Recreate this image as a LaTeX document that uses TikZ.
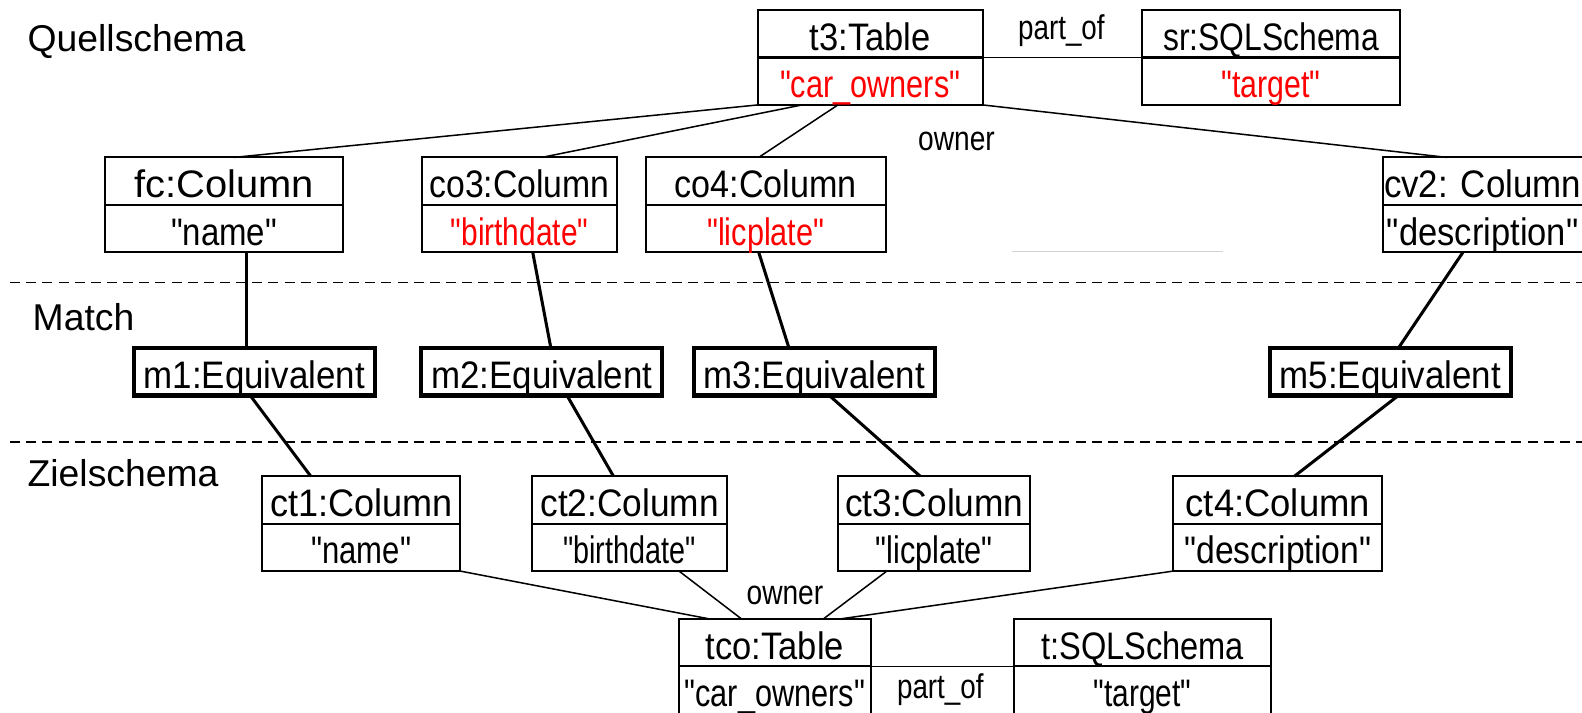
\documentclass[tikz,border=0pt]{standalone}
\usepackage{fontspec}
\setmainfont{Liberation Sans}[Ligatures=TeXOff]
\usepackage{graphicx}
\usepackage{tikz}
\usetikzlibrary{positioning}
\definecolor{ValueRed}{RGB}{255,0,0}
\newcommand\sx[2]{\scalebox{#1}[1]{#2}}

\begin{document}
\begin{tikzpicture}[x=0.5pt,y=-0.5pt,
  obj/.style={draw,line width=1pt,minimum width=#1,minimum height=23.5pt,inner sep=0pt,outer sep=0pt,text height=16.5pt,text depth=0pt,font=\fontsize{19}{22}\selectfont},
  eqv/.style={obj=119.5pt,line width=2pt},
  lbl/.style={inner sep=0pt,font=\fontsize{18.5}{22}\selectfont},
  rel/.style={inner sep=0pt,anchor=base,font=\fontsize{17}{20}\selectfont},
  lnk/.style={line width=0.75pt},
  mlnk/.style={line width=1.5pt},
  sep/.style={line width=0.8pt,dash pattern=on 5pt off 3pt}]
\useasboundingbox (0,0) rectangle (1568,706);

% layers
\node[lbl,anchor=west] (quelle) at (27,41.5) {Quellschema};
\node[lbl,anchor=west] (match) at (32,314) {Match};
\node[lbl,anchor=west] (ziel) at (27,469) {Zielschema};
\draw[sep] (10,280) -- (1568,280);
\draw[sep] (10,438) -- (1568,438);

% source schema
\node[obj=111.5pt] (t3) at (862.5,33.5) {\sx{0.9}{t3:Table}};
\node[obj=111.5pt,below=0pt of t3,text=ValueRed] (t3-v) {\sx{0.8}{"car\_owners"}};
\node[obj=128pt] (sr) at (1260,33.5) {\sx{0.83}{sr:SQLSchema}};
\node[obj=128pt,below=0pt of sr,text=ValueRed] (sr-v) {\sx{0.79}{"target"}};
\draw[lnk] (t3.south east) -- (sr.south west);
\node[rel] (po1) at (1052,39) {\sx{0.81}{part\_of}};
\node[rel] (own1) at (948,149) {\sx{0.82}{owner}};

\foreach \nm/\px/\bw/\col/\ttl/\tsx/\val/\vsx in {%
  fc/222/118pt/black/fc:Column/1.04/"name"/0.86,
  co3/515/97pt/ValueRed/co3:Column/0.88/"birthdate"/0.78,
  co4/759/119pt/ValueRed/co4:Column/0.89/"licplate"/0.8,
  cv2/1469.5/99pt/black/cv2: Column/0.91/"description"/0.9} {
  \node[obj=\bw] (\nm) at (\px,179.5) {\sx{\tsx}{\ttl}};
  \node[obj=\bw,below=0pt of \nm,text=\col] (\nm-v) {\sx{\vsx}{\val}};
}
\draw[lnk] (t3-v.south west) -- ([xshift=5pt]fc.north);
\draw[lnk] ([xshift=-33.75pt]t3-v.south) -- ([xshift=11pt]co3.north);
\draw[lnk] ([xshift=-16pt]t3-v.south) -- ([xshift=-3.5pt]co4.north);
\draw[lnk] (t3-v.south east) -- ([xshift=-17.75pt]cv2.north);
\draw[gray!35,line width=0.6pt] (1003,249) -- (1212,249);

% match
\foreach \nm/\px in {m1/252,m2/537,m3/807,m5/1378}
  \node[eqv] (\nm) at (\px,368.5) {\sx{0.91}{\nm:Equivalent}};

% target schema
\foreach \nm/\px/\bw/\tsx/\val/\vsx in {%
  ct1/358/98pt/0.94/"name"/0.81,
  ct2/624/96.5pt/0.92/"birthdate"/0.75,
  ct3/926/95pt/0.92/"licplate"/0.8,
  ct4/1266.5/103.5pt/0.95/"description"/0.88} {
  \node[obj=\bw] (\nm) at (\px,495.5) {\sx{\tsx}{\nm:Column}};
  \node[obj=\bw,below=0pt of \nm] (\nm-v) {\sx{\vsx}{\val}};
}
\node[obj=95pt] (tco) at (768,637) {\sx{0.9}{tco:Table}};
\node[obj=95pt,below=0pt of tco] (tco-v) {\sx{0.8}{"car\_owners"}};
\node[obj=127.5pt] (t) at (1132.5,637) {\sx{0.85}{t:SQLSchema}};
\node[obj=127.5pt,below=0pt of t] (t-v) {\sx{0.78}{"target"}};
\draw[lnk] (tco.south east) -- (t.south west);
\node[rel] (po2) at (932,692) {\sx{0.81}{part\_of}};
\node[rel] (own2) at (778,599) {\sx{0.82}{owner}};

\draw[mlnk] ([xshift=11pt]fc-v.south) -- ([xshift=-4pt]m1.north);
\draw[mlnk] ([xshift=-2pt]m1.south) -- ([xshift=-25pt]ct1.north);
\draw[mlnk] ([xshift=6.5pt]co3-v.south) -- ([xshift=4.5pt]m2.north);
\draw[mlnk] ([xshift=12.5pt]m2.south) -- ([xshift=-8pt]ct2.north);
\draw[mlnk] ([xshift=-3.5pt]co4-v.south) -- ([xshift=-12.5pt]m3.north);
\draw[mlnk] ([xshift=7.5pt]m3.south) -- ([xshift=-7pt]ct3.north);
\draw[mlnk] ([xshift=-9.75pt]cv2-v.south) -- ([xshift=4pt]m5.north);
\draw[mlnk] ([xshift=4pt]m5.south) -- ([xshift=8.25pt]ct4.north);

\draw[lnk] (ct1-v.south east) -- ([xshift=-32.25pt]tco.north);
\draw[lnk] ([xshift=24.5pt]ct2-v.south) -- ([xshift=-16.5pt]tco.north);
\draw[lnk] ([xshift=-23.5pt]ct3-v.south) -- ([xshift=24pt]tco.north);
\draw[lnk] (ct4-v.south west) -- ([xshift=32.25pt]tco.north);
\end{tikzpicture}
\end{document}
